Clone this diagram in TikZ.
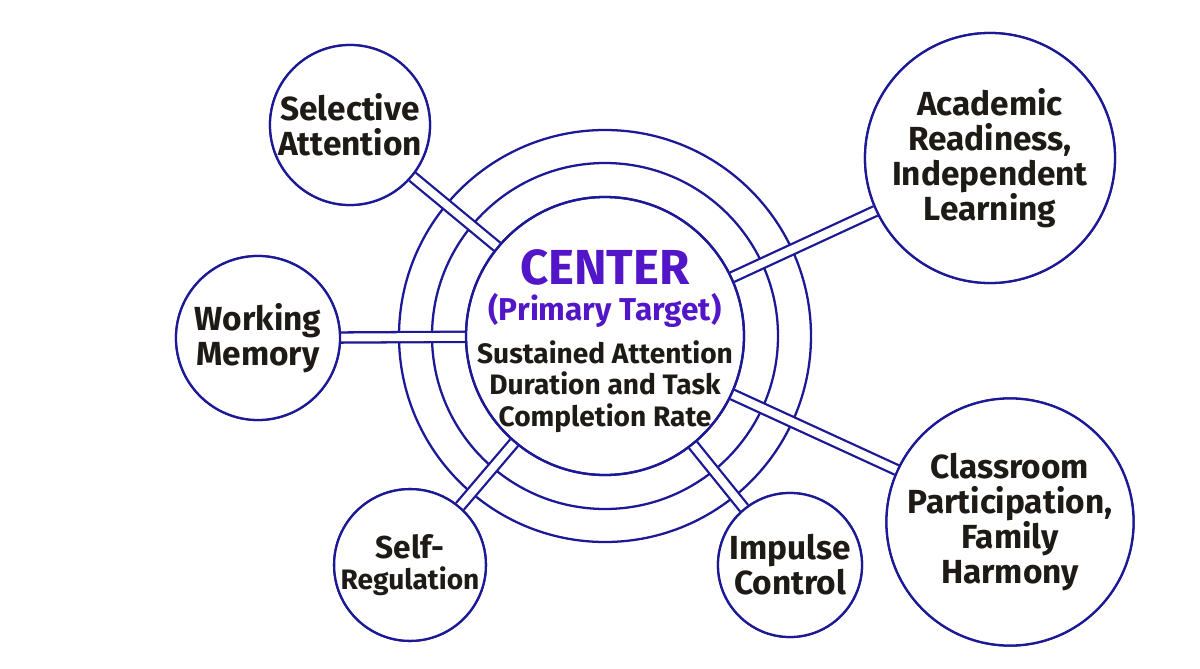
\documentclass[tikz,border=0pt]{standalone}
\usepackage{fontspec}
\setmainfont{Fira Sans}
\usetikzlibrary{positioning}
\definecolor{ringblue}{RGB}{28, 24, 150}
\definecolor{centerpurple}{RGB}{82, 22, 200}
\definecolor{textdark}{RGB}{30, 26, 22}
\tikzset{
  ring/.style={draw=ringblue, line width=1.3pt},
  sat/.style={circle, draw=ringblue, line width=1.3pt, fill=white, align=center,
    font=\bfseries\fontsize{19}{20}\selectfont, text=textdark, inner sep=0pt},
  link/.style={draw=ringblue, line width=1.3pt, double=white, double distance=4.5pt}
}
\begin{document}
\begin{tikzpicture}[x=0.02cm, y=-0.02cm]
		\useasboundingbox (0,0) rectangle (1200,669);
		% rings
		\coordinate (mid) at (605,336);
		\draw[ring] (mid) circle (206);
		\draw[ring] (mid) circle (173);
		\node[circle, draw=ringblue, line width=1.3pt, minimum size=278*0.02cm] (core) at (mid) {};
		% satellites (placed, drawn later)
		\path (350,125) node[sat, minimum size=160*0.02cm] (sel) {Selective\\Attention};
		\path (258,338) node[sat, minimum size=164*0.02cm] (wm) {Working\\Memory};
		\path (410,565) node[sat, minimum size=140*0.02cm, font=\bfseries\fontsize{16}{18}\selectfont] (sr) {{\fontsize{18}{18}\selectfont Self-}\\Regulation};
		\path (790,565) node[sat, minimum size=144*0.02cm] (ic) {Impulse\\Control};
		\path (990,158) node[sat, minimum size=250*0.02cm] (acad) {Academic\\Readiness,\\Independent\\Learning};
		\path (1010,522) node[sat, minimum size=236*0.02cm] (cls) {Classroom\\Participation,\\Family\\Harmony};
		% connectors
		\foreach \s in {sel, wm, sr, ic, acad, cls}
			\draw[link] (\s) -- (core);
		% redraw satellites on top
		\path (350,125) node[sat, minimum size=160*0.02cm] {Selective\\Attention};
		\path (258,338) node[sat, minimum size=164*0.02cm] {Working\\Memory};
		\path (410,565) node[sat, minimum size=140*0.02cm, font=\bfseries\fontsize{16}{18}\selectfont] {{\fontsize{18}{18}\selectfont Self-}\\Regulation};
		\path (790,565) node[sat, minimum size=144*0.02cm] {Impulse\\Control};
		\path (990,158) node[sat, minimum size=250*0.02cm] {Academic\\Readiness,\\Independent\\Learning};
		\path (1010,522) node[sat, minimum size=236*0.02cm] {Classroom\\Participation,\\Family\\Harmony};
		\draw[ring] (mid) circle (139);
		% centre text
		\node[align=center, text=centerpurple, font=\bfseries\fontsize{28}{30}\selectfont] (ctitle) at (605,267) {CENTER};
		\node[align=center, text=centerpurple, font=\bfseries\fontsize{18}{20}\selectfont, below=-2pt of ctitle] (csub) {(Primary Target)};
		\node[align=center, text=textdark, font=\bfseries\fontsize{16}{18}\selectfont, below=0pt of csub] (cbody) {Sustained Attention\\Duration and Task\\Completion Rate};
	\end{tikzpicture}
\end{document}
